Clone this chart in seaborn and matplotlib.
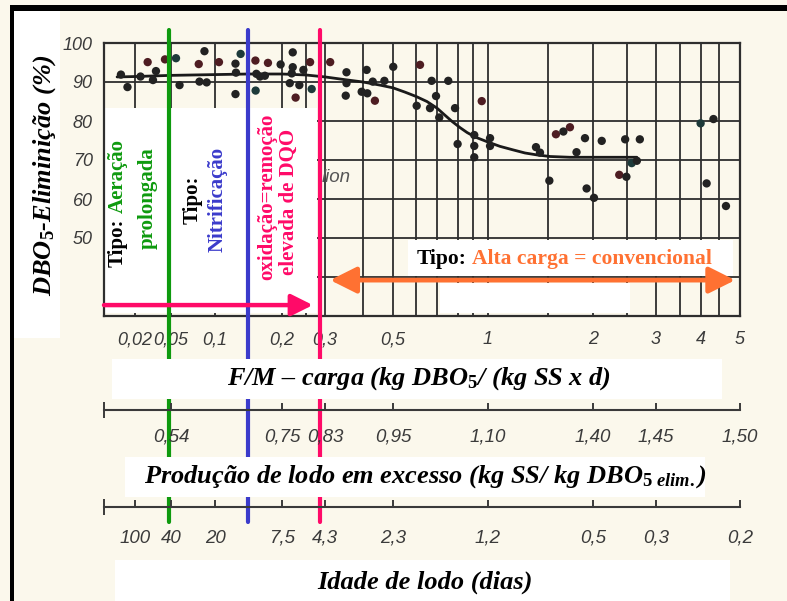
import numpy as np
import pandas as pd
import matplotlib
matplotlib.use("Agg")
import matplotlib.pyplot as plt
import seaborn as sns
from matplotlib.patches import Rectangle, FancyArrowPatch

# ---------------- data ----------------
fm = [0.0146, 0.0169, 0.0230, 0.0276, 0.0316, 0.0341, 0.0429, 0.0541, 0.0572, 0.0774,
      0.0847, 0.0783, 0.0877, 0.1050, 0.1286, 0.1294, 0.1286, 0.137, 0.1597, 0.161,
      0.166, 0.173, 0.160, 0.1776, 0.1977, 0.221, 0.221, 0.219, 0.244, 0.260,
      0.215, 0.235, 0.264, 0.227, 0.312, 0.353, 0.353, 0.351, 0.411, 0.396,
      0.413, 0.437, 0.430, 0.469, 0.501, 0.618, 0.673, 0.752, 0.695, 0.603,
      0.665, 0.710, 0.785, 0.957, 0.798, 0.908, 0.908, 0.908, 1.014, 1.014,
      1.383, 1.421, 1.578, 1.655, 1.726, 1.513, 1.80, 1.90, 2.118, 1.92,
      2.013, 2.47, 2.71, 2.376, 2.49, 2.575, 2.66, 3.99, 4.34, 4.15, 4.66]
elim = [91.9, 88.7, 91.4, 95.1, 90.5, 92.8, 95.8, 96.1, 89.2, 94.6,
        97.9, 90.1, 89.9, 95.1, 94.7, 92.4, 86.9, 97.2, 95.5, 92.1,
        91.4, 91.6, 87.8, 94.9, 94.5, 97.6, 93.8, 92.2, 93.1, 95.1,
        89.7, 89.2, 88.2, 86.0, 95.1, 92.5, 89.7, 86.5, 93.1, 87.5,
        87.1, 85.2, 90.1, 90.3, 93.9, 94.4, 90.3, 90.3, 86.4, 83.9,
        83.3, 80.9, 83.3, 85.1, 74.1, 76.4, 73.6, 70.7, 75.6, 73.6,
        73.3, 71.9, 76.6, 77.3, 78.4, 64.7, 72.0, 75.6, 74.9, 62.7,
        60.3, 75.3, 75.3, 66.2, 65.7, 69.2, 69.8, 79.4, 80.5, 64.0, 58.2]
tone = ["d", "d", "d", "r", "d", "d", "r", "t", "d", "r",
        "d", "d", "d", "r", "d", "d", "d", "t", "r", "d",
        "d", "d", "t", "r", "d", "d", "d", "d", "d", "r",
        "d", "d", "t", "r", "r", "d", "d", "d", "d", "d",
        "d", "r", "d", "d", "d", "r", "d", "d", "d", "d",
        "d", "d", "d", "r", "d", "d", "d", "d", "d", "d",
        "d", "d", "r", "d", "r", "d", "d", "d", "d", "d",
        "d", "d", "d", "r", "d", "t", "d", "t", "d", "d", "d"]

curve_fm = [0.0134, 0.02, 0.05, 0.1, 0.15, 0.2, 0.25, 0.3, 0.349, 0.4, 0.454, 0.5,
            0.55, 0.6, 0.65, 0.7, 0.736, 0.77, 0.813, 0.859, 0.913, 1.0, 1.084,
            1.184, 1.284, 1.393, 1.519, 1.726, 2.66]
curve_val = [91.3, 91.4, 91.7, 91.9, 92.05, 92.05, 91.8, 91.3, 90.6, 90.0, 89.2, 88.5,
             87.4, 86.3, 85.0, 83.3, 81.5, 79.9, 78.3, 77.05, 75.9, 74.6, 73.5,
             72.6, 71.8, 71.3, 70.9, 70.7, 70.7]

fm_major = [0.02, 0.05, 0.1, 0.2, 0.3, 0.5, 1, 2, 3, 4, 5]
fm_major_labels = ["0,02", "0,05", "0,1", "0,2", "0,3", "0,5", "1", "2", "3", "4", "5"]
fm_minor = [0.15, 0.25, 0.4, 0.6, 0.7, 0.8, 0.9, 1.5, 2.5, 3.5, 4.5]
y_ticks = [50, 60, 70, 80, 90, 100]
y_minor = [40]

prod_at = [0.05, 0.2, 0.3, 0.5, 1, 2, 3, 5]
prod_labels = ["0,54", "0,75", "0,83", "0,95", "1,10", "1,40", "1,45", "1,50"]
age_at = [0.02, 0.05, 0.1, 0.2, 0.3, 0.5, 1, 2, 3, 5]
age_labels = ["100", "40", "20", "7,5", "4,3", "2,3", "1,2", "0,5", "0,3", "0,2"]

bound_aeracao = 0.0475
bound_nitrif = 0.15
bound_oxid = 0.286
arrow_pink = (0.01, 0.267, 32.8)
arrow_orange = (0.312, 4.88, 39.2)

# nonuniform F/M axis of the original nomogram (value -> relative position)
scale_fm = [0.01, 0.02, 0.05, 0.1, 0.15, 0.2, 0.25, 0.3, 0.4, 0.5, 0.6, 0.7, 0.8, 0.9,
            1, 1.5, 2, 2.5, 3, 3.5, 4, 4.5, 5]
scale_pos = [104, 135, 171, 215, 248, 282, 306, 325, 363, 393, 416, 437, 458, 473,
             488, 548, 593, 627, 656, 680, 701, 719, 740]

_lf = np.log10(np.array(scale_fm, float))
_lp = np.array(scale_pos, float)
_s0 = (_lp[1] - _lp[0]) / (_lf[1] - _lf[0])
_s1 = (_lp[-1] - _lp[-2]) / (_lf[-1] - _lf[-2])


def fwd(x):
    x = np.asarray(x, float)
    lx = np.log10(np.where(x > 0, x, 1e-12))
    p = np.interp(lx, _lf, _lp)
    p = np.where(lx < _lf[0], _lp[0] + (lx - _lf[0]) * _s0, p)
    p = np.where(lx > _lf[-1], _lp[-1] + (lx - _lf[-1]) * _s1, p)
    return p


def inv(p):
    p = np.asarray(p, float)
    lx = np.interp(p, _lp, _lf)
    lx = np.where(p < _lp[0], _lf[0] + (p - _lp[0]) / _s0, lx)
    lx = np.where(p > _lp[-1], _lf[-1] + (p - _lp[-1]) / _s1, lx)
    return 10.0 ** lx


# ---------------- style ----------------
CREAM = "#FBF8EC"
GRID = "#2e2e2e"
GREEN = "#0E9A0E"
BLUE = "#3B3BCB"
PINK = "#FF0A68"
ORANGE = "#FF7132"
TICKC = "#3b3b3b"
SANS = "Liberation Sans"

sns.set_style("white")
plt.rcParams["font.family"] = ["Liberation Serif", "DejaVu Serif"]
plt.rcParams["mathtext.fontset"] = "custom"
plt.rcParams["mathtext.rm"] = "Liberation Serif:bold"
plt.rcParams["mathtext.it"] = "Liberation Serif:italic:bold"
plt.rcParams["mathtext.bf"] = "Liberation Serif:bold"

W, H = 787, 601
fig = plt.figure(figsize=(W / 100, H / 100), dpi=100, facecolor=CREAM)


def fx(px):
    return px / W


def fy(py):
    return 1 - py / H


def frect(x0, y0, x1, y1, color, z):
    r = Rectangle((fx(x0), fy(y1)), fx(x1) - fx(x0), fy(y0) - fy(y1),
                  transform=fig.transFigure, facecolor=color, edgecolor="none", zorder=z)
    fig.add_artist(r)
    return r


def style_ticklabels(labels, size):
    for lab in labels:
        lab.set_fontfamily(SANS)
        lab.set_fontstyle("italic")
        lab.set_fontsize(size)
        lab.set_color(TICKC)


# left white strip behind y label (below axes)
frect(13, 11, 60, 338, "white", -1)

ax = fig.add_axes([fx(104), fy(316), fx(740) - fx(104), fy(43) - fy(316)])
ax.set_facecolor("none")
ax.set_xscale("function", functions=(fwd, inv))
ax.set_xlim(0.01, 5)
ax.set_ylim(30, 100)

# white patches pasted over the scanned grid
for (x0, y0, x1, y1) in [(104, 108, 317, 313), (408, 240, 733, 276), (440, 283, 630, 313)]:
    r = Rectangle((fx(x0), fy(y1)), fx(x1) - fx(x0), fy(y0) - fy(y1),
                  transform=fig.transFigure, facecolor="white", edgecolor="none", zorder=1)
    ax.add_artist(r)

df = pd.DataFrame({"fm": fm, "elim": elim, "tone": tone})
sns.lineplot(x=curve_fm, y=curve_val, ax=ax, color="#1a1a1a", lw=2.0, zorder=3)
sns.scatterplot(data=df, x="fm", y="elim", hue="tone",
                palette={"d": "#222222", "r": "#4e1d22", "t": "#1d3a3a"},
                s=36, edgecolor="none", legend=False, ax=ax, zorder=4)
ax.set_xlabel("")
ax.set_ylabel("")

ax.set_xlim(0.01, 5)
ax.set_ylim(30, 100)
ax.set_xticks(fm_major)
ax.set_xticklabels(fm_major_labels)
ax.set_xticks(fm_minor, minor=True)
ax.set_yticks(y_ticks)
ax.set_yticklabels([str(v) for v in y_ticks])
ax.set_yticks(y_minor, minor=True)
ax.set_axisbelow(True)
ax.grid(True, which="both", color=GRID, lw=1.3)
ax.tick_params(which="both", length=0)
ax.tick_params(axis="x", pad=11)
ax.tick_params(axis="y", pad=8)
style_ticklabels(ax.get_xticklabels(), 13)
style_ticklabels(ax.get_yticklabels(), 13)
for sp in ax.spines.values():
    sp.set_visible(True)
    sp.set_color(GRID)
    sp.set_linewidth(1.6)

ax.text(0.291, 65.4, "lion", fontsize=13.5, fontstyle="italic", family=SANS,
        color="#555555", ha="left", va="center", zorder=2)

# boundary lines
for xv, col in [(bound_aeracao, GREEN), (bound_nitrif, BLUE), (bound_oxid, PINK)]:
    ax.axvline(xv, ymin=-0.7546, ymax=1.0476, color=col, lw=3.0, clip_on=False, zorder=5)

# arrows
pa = FancyArrowPatch((arrow_pink[0], arrow_pink[2]), (arrow_pink[1], arrow_pink[2]),
                     arrowstyle="-|>,head_length=13,head_width=6.5", mutation_scale=1,
                     color=PINK, lw=3.2, shrinkA=0, shrinkB=0, zorder=6, clip_on=False)
ax.add_patch(pa)
oa = FancyArrowPatch((arrow_orange[0], arrow_orange[2]), (arrow_orange[1], arrow_orange[2]),
                     arrowstyle="<|-|>,head_length=16,head_width=8", mutation_scale=1,
                     color=ORANGE, lw=3.4, shrinkA=0, shrinkB=0, zorder=6, clip_on=False)
ax.add_patch(oa)

# vertical annotations
TF = fig.transFigure
kw = dict(rotation=90, fontsize=15, fontweight="bold", zorder=7, transform=TF)
t1 = ax.text(fx(118), fy(267), "Tipo:", ha="center", va="bottom", color="black", **kw)
ax.annotate("Aeração", xy=(0.5, 1), xycoords=t1, xytext=(0, 4), textcoords="offset points",
            rotation=90, ha="center", va="bottom", fontsize=15, fontweight="bold",
            color=GREEN, zorder=7)
ax.text(fx(148), fy(198), "prolongada", ha="center", va="center", color=GREEN, **kw)
ax.text(fx(193), fy(200), "Tipo:", ha="center", va="center", color="black", **kw)
ax.text(fx(218), fy(199), "Nitrificação", ha="center", va="center", color=BLUE, **kw)
ax.text(fx(267), fy(197), "oxidação=remoção", ha="center", va="center", color=PINK, **kw)
ax.text(fx(289), fy(202), "elevada de DQO", ha="center", va="center", color=PINK, **kw)

t2 = ax.text(fx(417), fy(259), "Tipo:", ha="left", va="center", fontsize=15.5,
             fontweight="bold", color="black", transform=TF, zorder=7)
ax.annotate("Alta carga = convencional", xy=(1, 0), xycoords=t2, xytext=(4, 0),
            textcoords="offset points", ha="left", va="bottom", fontsize=15.5,
            fontweight="bold", color=ORANGE, zorder=7)


# ---------------- lower nomogram scales ----------------
def lower_axis(ypx, at, labels, pad):
    a = fig.add_axes([fx(104), fy(ypx), fx(740) - fx(104), 0.0005])
    a.set_facecolor("none")
    a.set_xscale("function", functions=(fwd, inv))
    a.set_xlim(0.01, 5)
    a.set_yticks([])
    for k in ["left", "right", "top"]:
        a.spines[k].set_visible(False)
    a.spines["bottom"].set_visible(True)
    a.spines["bottom"].set_color("#3a3a3a")
    a.spines["bottom"].set_linewidth(1.5)
    a.set_xticks(at)
    a.set_xticklabels(labels)
    a.set_xticks([0.01, 5], minor=True)
    a.tick_params(axis="x", which="major", direction="in", length=5, width=1.4,
                  color="#3a3a3a", pad=pad, bottom=True)
    a.tick_params(axis="x", which="minor", direction="inout", length=11, width=1.4,
                  color="#3a3a3a", bottom=True)
    style_ticklabels(a.get_xticklabels(), 13.5)
    return a


lower_axis(410, prod_at, prod_labels, 13.5)
lower_axis(507, age_at, age_labels, 16.5)

# white label bands (cover the boundary lines)
frect(112, 359, 722, 399, "white", 1)
frect(125, 457, 705, 497, "white", 1)
frect(115, 560, 730, 601, "white", 1)

tkw = dict(fontsize=19, fontweight="bold", fontstyle="italic", color="black",
           ha="center", va="center", zorder=3)
fig.text(fx(419), fy(379), r"F/M – carga (kg DBO$_5$/ (kg SS x d)", **tkw)
fig.text(fx(425), fy(477), r"Produção de lodo em excesso (kg SS/ kg DBO$_{5\ elim.}$)", **tkw)
fig.text(fx(425), fy(582), "Idade de lodo (dias)", **tkw)
fig.text(fx(45), fy(175), r"DBO$_5$-Eliminição (%)", rotation=90, **tkw)

# black frame of the slide
frect(10, 5, 787, 11, "black", 10)
frect(10, 5, 14, 601, "black", 10)

fig.savefig("out.png", dpi=100, facecolor=CREAM)
